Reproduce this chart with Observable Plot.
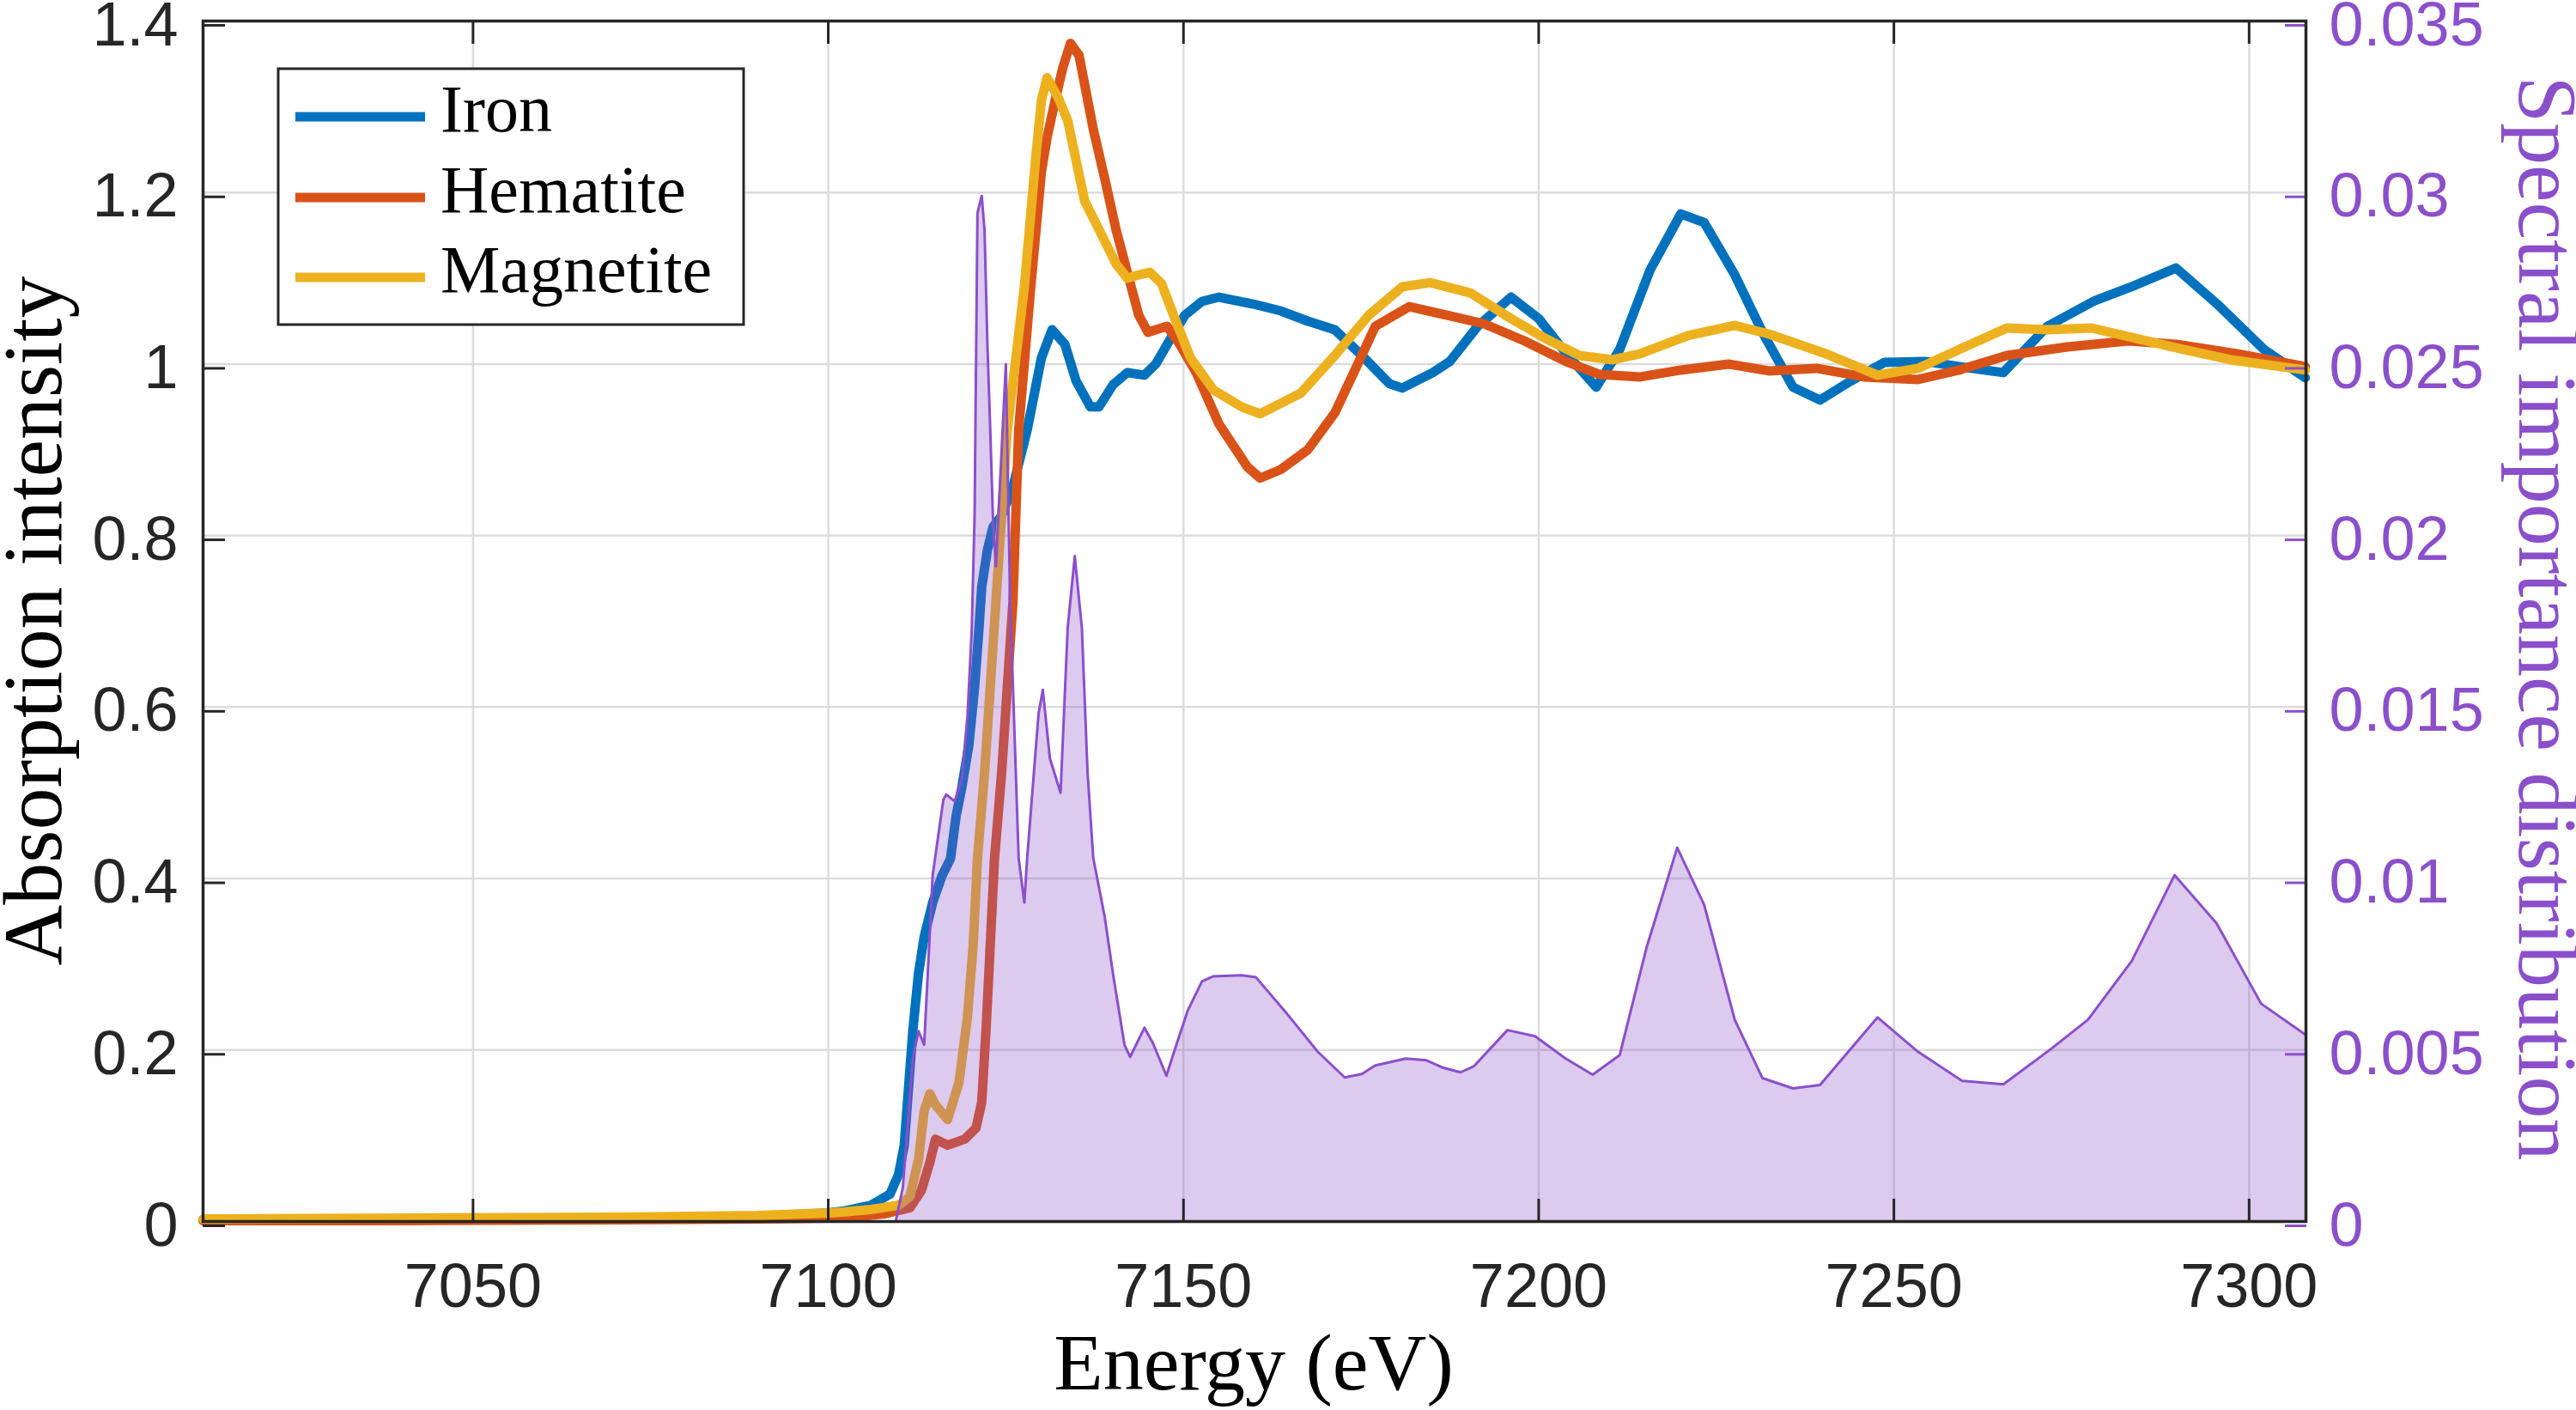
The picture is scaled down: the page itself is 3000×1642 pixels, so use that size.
<!DOCTYPE html>
<html>
<head>
<meta charset="utf-8">
<script src="https://cdn.jsdelivr.net/npm/d3@7"></script>
<script src="https://cdn.jsdelivr.net/npm/@observablehq/plot@0.6"></script>
<style>
  html, body { margin: 0; padding: 0; background: #ffffff; }
  #chart { position: relative; width: 3000px; height: 1642px; }
  svg { overflow: visible; }
</style>
</head>
<body>
<div id="chart"></div>
<script>
// ---------- data ----------
const seriesNames = ["Iron", "Hematite", "Magnetite"];
const seriesColors = ["#0072BD", "#D95319", "#EDB120"];

const energyIron = [7012, 7040, 7070, 7090, 7100, 7102, 7106, 7108.7, 7109.9, 7110.7, 7111.3, 7111.9, 7112.7, 7113.5, 7114.7, 7116, 7117.2, 7118, 7118.8, 7119.8, 7120.6, 7121.2, 7121.6, 7122.4, 7123.2, 7124.4, 7126, 7128, 7130, 7131.5, 7133.3, 7134.9, 7136.9, 7138.1, 7140.1, 7142.1, 7144.5, 7146.1, 7148.2, 7150.2, 7152.6, 7155, 7159.8, 7163.7, 7167.5, 7171.3, 7175.1, 7179, 7180.8, 7185.1, 7187.5, 7191.4, 7196.1, 7200, 7203.8, 7208.1, 7211.4, 7215.7, 7220, 7223.3, 7227.6, 7231.5, 7235.8, 7239.6, 7243.9, 7248.7, 7254.4, 7259.2, 7265.4, 7271.6, 7278.3, 7284, 7289.7, 7295.5, 7302.1, 7307.9];
const iron = [0.002, 0.003, 0.004, 0.006, 0.010, 0.012, 0.019, 0.032, 0.055, 0.089, 0.156, 0.222, 0.289, 0.332, 0.372, 0.403, 0.423, 0.473, 0.506, 0.556, 0.623, 0.69, 0.74, 0.783, 0.81, 0.823, 0.857, 0.923, 1.007, 1.04, 1.023, 0.98, 0.95, 0.95, 0.976, 0.99, 0.987, 1.0, 1.03, 1.057, 1.073, 1.078, 1.070, 1.062, 1.050, 1.040, 1.010, 0.977, 0.972, 0.990, 1.003, 1.044, 1.078, 1.053, 1.013, 0.973, 1.017, 1.110, 1.175, 1.165, 1.104, 1.037, 0.973, 0.958, 0.980, 1.002, 1.003, 0.997, 0.990, 1.044, 1.074, 1.092, 1.112, 1.070, 1.017, 0.984];

const energyHematite = [7012, 7040, 7070, 7090, 7100, 7102, 7108, 7111.5, 7113.1, 7114.3, 7115.1, 7116.8, 7119.2, 7120.8, 7121.6, 7122.2, 7122.8, 7123.4, 7124.4, 7125.2, 7126, 7126.4, 7126.8, 7128.4, 7130, 7130.8, 7132, 7133, 7134.1, 7135.3, 7137.3, 7138.9, 7140.5, 7142.1, 7143.7, 7145, 7146.1, 7147.7, 7149.4, 7151.8, 7155, 7159, 7160.8, 7163.7, 7167.5, 7171.3, 7174.2, 7177, 7181.8, 7186.6, 7192.3, 7198, 7203.8, 7208.5, 7214.3, 7220, 7226.7, 7232.4, 7239.1, 7245.8, 7253.4, 7259.2, 7265.9, 7274.4, 7283, 7289.7, 7298.3, 7307.9];
const hematite = [0.001, 0.001, 0.002, 0.003, 0.004, 0.004, 0.009, 0.016, 0.036, 0.069, 0.096, 0.089, 0.096, 0.109, 0.139, 0.222, 0.322, 0.423, 0.523, 0.623, 0.723, 0.823, 0.923, 1.08, 1.224, 1.264, 1.31, 1.345, 1.374, 1.36, 1.274, 1.217, 1.157, 1.107, 1.057, 1.037, 1.040, 1.044, 1.024, 0.99, 0.93, 0.88, 0.867, 0.877, 0.900, 0.943, 0.994, 1.044, 1.067, 1.058, 1.047, 1.027, 1.003, 0.988, 0.985, 0.993, 1.0, 0.992, 0.995, 0.985, 0.982, 0.993, 1.010, 1.020, 1.027, 1.023, 1.012, 0.997];

const energyMagnetite = [7012, 7040, 7070, 7090, 7100, 7102, 7106, 7109.9, 7111.5, 7112.7, 7113.5, 7114.3, 7115.1, 7116.8, 7118.4, 7119.6, 7120.4, 7121, 7122, 7122.8, 7123.6, 7124.4, 7125.2, 7127.6, 7129.2, 7130, 7130.8, 7132.4, 7133.7, 7134.9, 7136.1, 7138.1, 7140.5, 7142.1, 7143.7, 7145.3, 7146.9, 7148.6, 7151, 7154.2, 7158.2, 7160.8, 7166.5, 7171.3, 7176.1, 7180.8, 7184.7, 7190.4, 7196.1, 7200.9, 7205.7, 7210.4, 7214.3, 7221, 7227.6, 7232.4, 7240.1, 7247.7, 7253.4, 7259.2, 7265.9, 7271.6, 7277.8, 7284, 7290.7, 7297.4, 7307.9];
const magnetite = [0.003, 0.004, 0.005, 0.007, 0.010, 0.011, 0.014, 0.019, 0.029, 0.072, 0.129, 0.149, 0.136, 0.119, 0.162, 0.239, 0.322, 0.423, 0.523, 0.623, 0.723, 0.823, 0.923, 1.09, 1.24, 1.307, 1.334, 1.31, 1.284, 1.237, 1.19, 1.157, 1.117, 1.10, 1.104, 1.107, 1.094, 1.057, 1.007, 0.97, 0.95, 0.942, 0.966, 1.010, 1.057, 1.090, 1.095, 1.083, 1.053, 1.030, 1.010, 1.005, 1.012, 1.033, 1.045, 1.035, 1.013, 0.987, 0.995, 1.017, 1.042, 1.040, 1.042, 1.030, 1.017, 1.005, 0.993];

const energySpectral = [7012, 7109.5, 7110.5, 7111.9, 7112.7, 7113.5, 7114.0, 7114.7, 7116.2, 7116.6, 7117.8, 7118.8, 7119.6, 7120.2, 7120.6, 7121.0, 7121.6, 7122.0, 7122.4, 7122.8, 7123.2, 7123.6, 7125.0, 7125.6, 7126.0, 7126.8, 7127.6, 7128.0, 7129.6, 7130.2, 7131.2, 7132.7, 7133.7, 7134.7, 7135.7, 7136.5, 7137.3, 7138.9, 7140.1, 7141.7, 7142.5, 7144.5, 7145.7, 7147.6, 7149.0, 7150.6, 7152.6, 7154.2, 7158.2, 7160.2, 7164.6, 7168.9, 7172.7, 7175.1, 7177.0, 7181.3, 7184.2, 7186.6, 7189.0, 7190.9, 7195.6, 7199.5, 7203.8, 7207.6, 7211.4, 7215.2, 7219.5, 7223.3, 7227.6, 7231.5, 7235.8, 7239.6, 7247.7, 7253.4, 7259.6, 7265.4, 7272.1, 7277.3, 7283.5, 7289.5, 7295.4, 7301.7, 7307.9];
const spectral = [0, 0, 0.0010, 0.00475, 0.00555, 0.00515, 0.0072, 0.0101, 0.0123, 0.01245, 0.01225, 0.0129, 0.01475, 0.01725, 0.0206, 0.0294, 0.0299, 0.0289, 0.0256, 0.0231, 0.0204, 0.0191, 0.0250, 0.0181, 0.0156, 0.0106, 0.0093, 0.0106, 0.0148, 0.0155, 0.0135, 0.0125, 0.0173, 0.0194, 0.0173, 0.0131, 0.0106, 0.0089, 0.0072, 0.00515, 0.0048, 0.00565, 0.0052, 0.00425, 0.00515, 0.00615, 0.0070, 0.00715, 0.00718, 0.00712, 0.00605, 0.00495, 0.0042, 0.0043, 0.00455, 0.00475, 0.0047, 0.00448, 0.00435, 0.00453, 0.00558, 0.0054, 0.00475, 0.00428, 0.00485, 0.0080, 0.0109, 0.00923, 0.00588, 0.00418, 0.00388, 0.00398, 0.00595, 0.00495, 0.0041, 0.0040, 0.00503, 0.00588, 0.0076, 0.0101, 0.0087, 0.00635, 0.00545];

const xTicks = [7050, 7100, 7150, 7200, 7250, 7300];
const yTicks = [0, 0.2, 0.4, 0.6, 0.8, 1, 1.2, 1.4];
const yTickLabels = ["0", "0.2", "0.4", "0.6", "0.8", "1", "1.2", "1.4"];
const rightTicks = [0, 0.005, 0.01, 0.015, 0.02, 0.025, 0.03, 0.035];
const rightTickLabels = ["0", "0.005", "0.01", "0.015", "0.02", "0.025", "0.03", "0.035"];

// ---------- build tables ----------
const zip = (xs, ys) => xs.map((x, i) => ({E: x, v: ys[i]}));
const ironRows = zip(energyIron, iron);
const hematiteRows = zip(energyHematite, hematite);
const magnetiteRows = zip(energyMagnetite, magnetite);
const spectralRows = energySpectral.map((x, i) => ({E: x, s: spectral[i]}));

const ratio = 0.035 / 1.4; // right axis units per left axis unit
const purple = "#8B4FCB";
const ink = "#262626";
const serif = "'Liberation Serif', 'Times New Roman', serif";

const lineOpts = {x: "E", y: "v", strokeWidth: 11, strokeLinejoin: "round", strokeLinecap: "round"};

const chart = Plot.plot({
  width: 3000,
  height: 1642,
  marginLeft: 236,
  marginRight: 315,
  marginTop: 24,
  marginBottom: 220,
  x: {domain: [7012, 7308]},
  y: {domain: [0, 1.4]},
  style: {fontFamily: "'Liberation Sans', Arial, sans-serif", fontSize: "72px", color: ink, background: "#ffffff"},
  marks: [
    Plot.gridX({ticks: xTicks, stroke: "#dcdcdc", strokeOpacity: 1, strokeWidth: 2.5}),
    Plot.gridY({ticks: yTicks, stroke: "#dcdcdc", strokeOpacity: 1, strokeWidth: 2.5}),
    Plot.line(ironRows, {...lineOpts, stroke: seriesColors[0]}),
    Plot.line(hematiteRows, {...lineOpts, stroke: seriesColors[1]}),
    Plot.line(magnetiteRows, {...lineOpts, stroke: seriesColors[2]}),
    Plot.areaY(spectralRows, {x: "E", y: d => d.s / ratio, fill: purple, fillOpacity: 0.3}),
    Plot.lineY(spectralRows, {x: "E", y: d => d.s / ratio, stroke: purple, strokeWidth: 3}),
    Plot.axisX({ticks: xTicks, tickSize: -26, tickPadding: 74, tickFormat: d => String(d), label: null, strokeWidth: 3, fontSize: 72, fill: ink}),
    Plot.axisX({anchor: "top", ticks: xTicks, tickSize: -26, text: null, label: null, strokeWidth: 3}),
    Plot.axisY({anchor: "left", ticks: yTicks, tickSize: -26, tickPadding: 55, dy: 5, tickFormat: d => yTickLabels[yTicks.indexOf(d)], label: null, strokeWidth: 3, fontSize: 72, fill: ink}),
    Plot.axisY({anchor: "right", ticks: rightTicks.map(s => s / ratio), tickSize: -25, tickPadding: 52, dy: 5, tickFormat: d => rightTickLabels[rightTicks.findIndex(s => Math.abs(s / ratio - d) < 1e-9)], label: null, stroke: purple, fill: purple, strokeWidth: 3, fontSize: 72}),
    Plot.frame({stroke: ink, strokeWidth: 3.5})
  ]
});

document.getElementById("chart").appendChild(chart);

// ---------- axis titles and legend ----------
const svg = d3.select(chart);

svg.append("text")
  .attr("transform", "translate(71,723) rotate(-90)")
  .attr("text-anchor", "middle")
  .attr("font-family", serif)
  .attr("font-size", 98)
  .attr("fill", "#000")
  .text("Absorption intensity");

svg.append("text")
  .attr("transform", "translate(2934,720) rotate(90)")
  .attr("text-anchor", "middle")
  .attr("font-family", serif)
  .attr("font-size", 98)
  .attr("fill", purple)
  .text("Spectral importance distribution");

svg.append("text")
  .attr("x", 1460)
  .attr("y", 1618)
  .attr("text-anchor", "middle")
  .attr("font-family", serif)
  .attr("font-size", 94)
  .attr("fill", "#000")
  .text("Energy (eV)");

const legend = svg.append("g").attr("text-anchor", "start");
legend.append("rect")
  .attr("x", 324).attr("y", 80).attr("width", 542).attr("height", 298)
  .attr("fill", "#ffffff").attr("stroke", ink).attr("stroke-width", 3);
const rowBaselines = [153, 247, 340];
seriesNames.forEach((name, i) => {
  const b = rowBaselines[i];
  legend.append("line")
    .attr("x1", 344).attr("x2", 495).attr("y1", b - 17).attr("y2", b - 17)
    .attr("stroke", seriesColors[i]).attr("stroke-width", 11);
  legend.append("text")
    .attr("x", 513).attr("y", b)
    .attr("text-anchor", "start")
    .attr("font-family", serif).attr("font-size", 78).attr("fill", "#000")
    .text(name);
});
</script>
</body>
</html>
